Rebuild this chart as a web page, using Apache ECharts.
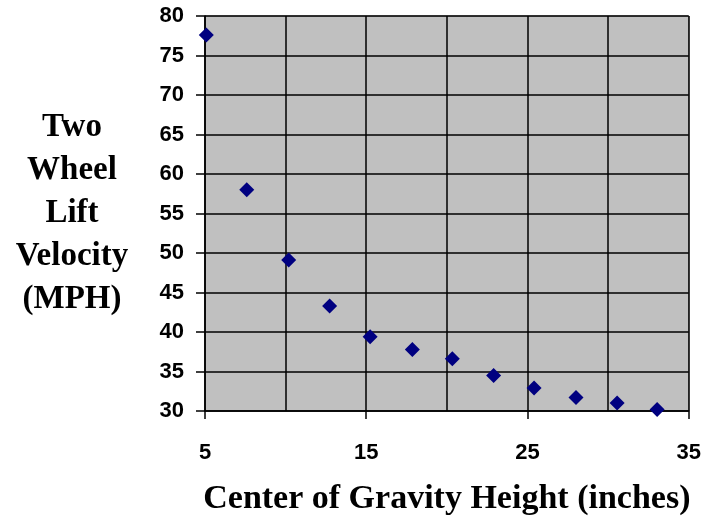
<!DOCTYPE html>
<html>
<head>
<meta charset="utf-8">
<script src="https://cdn.jsdelivr.net/npm/echarts@6/dist/echarts.min.js"></script>
<style>html,body{margin:0;padding:0;background:#fff}#c{width:705px;height:521px}</style>
</head>
<body>
<div id="c"></div>
<script>
const cgHeight = [5.08, 7.59, 10.19, 12.73, 15.24, 17.86, 20.34, 22.9, 25.41, 28.01, 30.56, 33.04];
const liftVelocity = [77.6, 58.0, 49.1, 43.3, 39.4, 37.8, 36.6, 34.5, 32.9, 31.7, 31.0, 30.2];
const xTickLabels = [5, 15, 25, 35];
const xTitle = 'Center of Gravity Height (inches)';
const yTitle = 'Two\nWheel\nLift\nVelocity\n(MPH)';

const labelFont = {color: '#000', fontFamily: 'Liberation Sans', fontWeight: 'bold', fontSize: 22};
const chart = echarts.init(document.getElementById('c'), null, {renderer: 'canvas'});
chart.setOption({
  animation: false,
  grid: {left: 205, top: 16, right: 16.3, bottom: 108.7, show: true, backgroundColor: '#C0C0C0', borderColor: '#808080', borderWidth: 1},
  xAxis: [{
    type: 'value', min: 5, max: 35, interval: 5,
    axisLine: {show: true, lineStyle: {color: '#000', width: 1.5}},
    axisTick: {show: false},
    axisLabel: {show: false},
    splitLine: {show: true, lineStyle: {color: '#000', width: 1.5}},
    name: xTitle, nameLocation: 'middle', nameGap: 88,
    nameTextStyle: {fontFamily: 'Liberation Serif', fontWeight: 'bold', fontSize: 34, color: '#000', verticalAlign: 'middle'}
  }, {
    type: 'value', min: 5, max: 35, position: 'bottom',
    axisLine: {show: false},
    axisTick: {show: true, length: 8, customValues: xTickLabels, lineStyle: {color: '#000', width: 1.5}},
    axisLabel: Object.assign({customValues: xTickLabels, margin: 31}, labelFont),
    splitLine: {show: false}
  }],
  yAxis: {
    type: 'value', min: 30, max: 80, interval: 5,
    axisLine: {show: true, lineStyle: {color: '#000', width: 1.5}},
    axisTick: {show: true, length: 9, lineStyle: {color: '#000', width: 1.5}},
    axisLabel: Object.assign({margin: 21}, labelFont),
    splitLine: {show: true, lineStyle: {color: '#000', width: 1.5}},
    name: yTitle, nameLocation: 'middle', nameRotate: 0, nameGap: 133,
    nameTextStyle: {fontFamily: 'Liberation Serif', fontWeight: 'bold', fontSize: 33, lineHeight: 43, color: '#000', align: 'center', verticalAlign: 'middle', padding: [8, 0, 0, 0]}
  },
  series: [{
    type: 'scatter',
    data: cgHeight.map((x, i) => [x, liftVelocity[i]]),
    symbol: 'diamond', symbolSize: 15,
    itemStyle: {color: '#000080', opacity: 1}
  }]
});
</script>
</body>
</html>
